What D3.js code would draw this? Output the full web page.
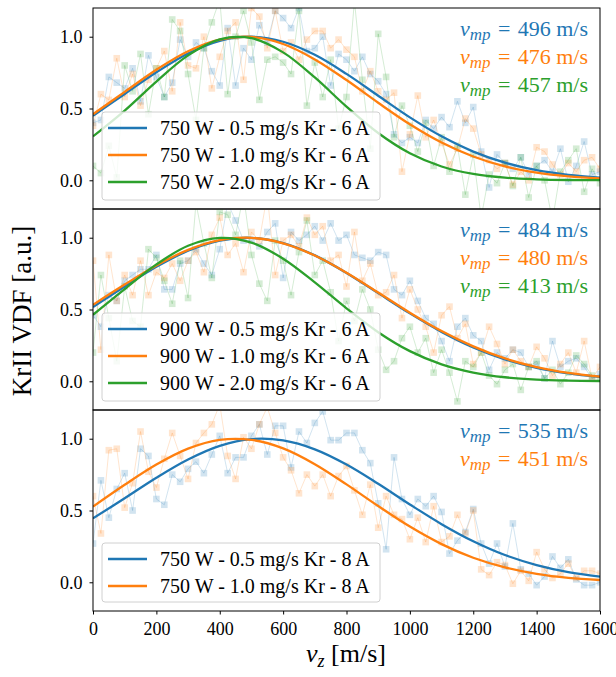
<!DOCTYPE html>
<html><head><meta charset="utf-8">
<script src="https://cdn.jsdelivr.net/npm/d3@7"></script>
<style>
body{margin:0;background:#fff}
svg{display:block}
text{font-family:"Liberation Serif","Times New Roman",serif;}
</style>
</head><body>
<svg id="c" width="616" height="677"></svg>
<script>
// ---------------- DATA ----------------
const xTicks = [0, 200, 400, 600, 800, 1000, 1200, 1400, 1600];
const yTicks = [0.0, 0.5, 1.0];
const vGrid = d3.range(0, 1601, 25);            // measurement grid [m/s]
const fitGrid = [0,100,200,300,400,500,600,700,800,900,1000,1100,1200,1300,1400,1500,1600];

// Panel 1: 750 W, 6 A
const legend1 = ["750 W - 0.5 mg/s Kr - 6 A", "750 W - 1.0 mg/s Kr - 6 A", "750 W - 2.0 mg/s Kr - 6 A"];
const vmp1 = [496, 476, 457];
const p1Blue = [0.40,0.42,0.72,0.68,0.64,0.78,0.55,0.87,0.72,0.58,
 0.68,0.98,0.86,0.96,0.92,0.76,0.66,1.06,0.66,0.92,
 0.84,1.08,0.96,1.18,1.13,1.06,1.20,0.90,0.92,1.00,
 0.66,0.88,0.84,0.76,0.86,0.74,0.69,0.60,0.32,0.26,
 0.30,0.26,0.42,0.36,0.44,0.37,0.55,0.40,0.51,0.20,
 -0.05,0.18,0.12,0.08,0.16,0.04,0.10,0.14,0.06,0.22,
 -0.01,0.10,0.27,0.04,0.06];
const p1Orange = [0.38,0.60,0.56,0.85,0.58,0.74,0.52,0.70,0.78,0.90,
 0.62,1.10,0.80,0.78,1.00,0.64,0.86,1.04,1.10,0.70,
 1.20,1.14,0.92,1.18,0.90,0.96,0.84,0.98,1.04,1.04,
 0.92,0.98,0.91,0.86,0.62,0.76,0.62,0.56,0.61,0.06,
 0.32,0.59,0.30,0.42,0.26,0.11,0.22,0.43,0.36,0.18,
 0.14,0.08,0.12,-0.03,0.06,0.00,0.23,0.20,0.11,0.04,
 0.12,0.06,0.14,0.16,0.08];
const p1Green = [0.10,0.05,0.24,0.02,0.80,0.62,0.88,0.46,0.78,0.58,
 1.12,1.04,0.74,0.42,0.92,1.10,1.26,0.60,1.00,1.18,
 0.96,0.56,0.84,0.86,0.82,0.74,1.18,0.52,0.82,0.58,
 0.84,0.36,0.58,1.25,0.70,0.22,1.02,0.72,0.30,0.52,
 0.38,0.20,0.40,0.10,0.30,0.06,0.24,-0.10,0.18,-0.26,
 0.04,-0.02,0.12,-0.04,0.16,-0.12,0.10,0.00,-0.28,0.06,
 0.14,0.22,-0.08,0.08,-0.02];
const fit1Blue   = [0.450,0.601,0.752,0.883,0.971,1.000,0.965,0.874,0.741,0.589,0.438,0.306,0.200,0.123,0.070,0.038,0.019];
const fit1Orange = [0.460,0.616,0.770,0.899,0.980,0.998,0.949,0.842,0.698,0.540,0.390,0.263,0.166,0.097,0.053,0.027,0.013];
const fit1Green  = [0.306,0.486,0.688,0.870,0.982,0.990,0.891,0.716,0.513,0.329,0.188,0.096,0.044,0.018,0.007,0.002,0.001];

// Panel 2: 900 W, 6 A
const legend2 = ["900 W - 0.5 mg/s Kr - 6 A", "900 W - 1.0 mg/s Kr - 6 A", "900 W - 2.0 mg/s Kr - 6 A"];
const vmp2 = [484, 480, 413];
const p2Blue = [0.46,0.38,0.60,0.56,0.70,0.74,0.78,0.78,0.88,0.64,
 0.64,0.82,0.84,0.92,0.82,0.74,0.92,1.24,1.12,0.98,
 0.98,0.94,1.04,1.10,0.72,1.04,0.98,1.02,1.08,0.98,
 1.10,0.98,1.02,0.88,0.86,0.84,0.90,0.88,0.64,0.60,
 0.70,0.56,0.44,0.40,0.28,0.14,0.38,0.44,0.32,0.28,
 0.08,0.20,0.16,0.22,0.20,0.10,0.12,0.02,0.28,0.10,
 0.14,0.16,0.10,0.02,0.05];
const p2Orange = [0.84,0.22,0.88,0.56,0.74,0.60,0.84,0.60,0.76,0.72,
 0.82,0.70,0.84,0.90,0.76,1.02,1.14,0.88,0.96,0.76,
 1.04,0.98,1.30,0.74,0.98,1.02,0.94,1.14,1.02,1.08,
 0.84,0.88,0.66,1.04,0.70,0.82,0.60,0.62,0.74,0.44,
 0.64,0.50,0.38,0.20,0.46,0.52,0.30,0.40,0.12,0.20,
 0.38,0.26,0.12,0.22,0.14,0.10,0.24,0.16,0.04,0.12,
 0.20,0.06,0.28,0.02,0.10];
const p2Green = [0.20,0.74,0.44,0.14,0.66,0.42,0.38,0.92,0.86,0.70,
 0.54,0.84,0.58,1.24,0.96,0.72,1.18,1.16,1.02,1.30,
 0.88,0.68,0.56,0.98,0.84,0.60,0.90,1.12,0.74,0.84,
 0.62,0.28,0.56,0.42,0.64,0.50,0.22,0.08,0.14,0.30,
 0.38,0.20,0.30,0.06,0.22,0.06,-0.14,0.14,0.10,0.20,
 0.04,-0.02,0.08,0.12,-0.06,0.10,0.14,0.02,0.08,-0.02,
 0.06,0.18,0.12,0.04,0.02];
const fit2Blue   = [0.517,0.660,0.797,0.909,0.980,0.999,0.963,0.877,0.755,0.614,0.473,0.344,0.236,0.153,0.094,0.055,0.030];
const fit2Orange = [0.533,0.674,0.807,0.915,0.983,0.999,0.961,0.876,0.756,0.618,0.478,0.350,0.243,0.159,0.099,0.058,0.032];
const fit2Green  = [0.463,0.642,0.814,0.944,0.999,0.966,0.854,0.689,0.508,0.342,0.210,0.118,0.061,0.028,0.012,0.005,0.002];

// Panel 3: 750 W, 8 A
const legend3 = ["750 W - 0.5 mg/s Kr - 8 A", "750 W - 1.0 mg/s Kr - 8 A"];
const vmp3 = [535, 451];
const p3Blue = [0.27,0.71,0.45,0.65,0.76,0.50,0.93,0.88,0.58,0.54,
 0.75,0.70,0.79,0.84,0.76,0.89,1.02,0.76,0.87,0.87,
 1.02,1.10,0.89,1.09,1.09,0.80,1.05,0.97,1.11,1.19,
 0.99,0.99,1.04,1.04,0.92,0.83,0.55,0.23,0.87,0.58,
 0.47,0.58,0.53,0.60,0.49,0.20,0.29,0.35,0.51,0.27,
 0.13,0.27,0.11,0.41,0.09,0.06,-0.02,0.04,0.18,0.10,
 0.16,0.02,-0.02,-0.02,0.00];
const p3Orange = [0.60,0.34,0.92,0.93,0.52,0.69,1.05,0.77,0.66,0.86,
 1.04,0.88,0.72,0.97,1.04,1.10,1.24,0.88,0.72,1.01,
 0.93,1.10,1.22,1.04,0.87,0.78,0.62,0.75,0.67,0.75,
 0.60,0.74,0.81,0.64,0.47,0.68,0.38,0.60,0.47,0.44,
 0.30,0.45,0.28,0.53,0.28,0.32,0.47,0.34,0.50,0.09,
 0.05,0.14,0.12,-0.01,0.08,0.01,0.21,0.09,0.03,0.06,
 0.13,0.03,0.08,0.08,0.06];
const fit3Blue   = [0.445,0.585,0.728,0.855,0.950,0.997,0.988,0.926,0.820,0.686,0.542,0.405,0.286,0.190,0.120,0.071,0.040];
const fit3Orange = [0.527,0.679,0.820,0.931,0.992,0.992,0.933,0.823,0.682,0.531,0.388,0.266,0.171,0.104,0.059,0.031,0.016];

const palette = ["#1f77b4", "#ff7f0e", "#2ca02c"];

// ---------------- LAYOUT ----------------
const svg = d3.select("#c");
const plotL = 93, plotR = 600, plotTop = 8, panelH = 201;
const x = d3.scaleLinear().domain([0, 1600]).range([plotL, plotR]);

const panels = [
  {legend: legend1, vmp: vmp1, data: [p1Blue, p1Orange, p1Green], fits: [fit1Blue, fit1Orange, fit1Green]},
  {legend: legend2, vmp: vmp2, data: [p2Blue, p2Orange, p2Green], fits: [fit2Blue, fit2Orange, fit2Green]},
  {legend: legend3, vmp: vmp3, data: [p3Blue, p3Orange], fits: [fit3Blue, fit3Orange]}
];

panels.forEach((p, i) => {
  const top = plotTop + i * panelH, bot = top + panelH;
  const y = d3.scaleLinear().domain([-0.2, 1.2]).range([bot, top]);
  const g = svg.append("g");
  const cid = "clip" + i;
  svg.append("clipPath").attr("id", cid).append("rect")
    .attr("x", plotL).attr("y", top).attr("width", plotR - plotL).attr("height", panelH);
  const plot = g.append("g").attr("clip-path", `url(#${cid})`);

  // raw data
  p.data.forEach((s, k) => {
    const line = d3.line().x((d, j) => x(vGrid[j])).y(d => y(d));
    plot.append("path").datum(s).attr("d", line)
      .attr("fill", "none").attr("stroke", palette[k]).attr("stroke-width", 0.8).attr("stroke-opacity", 0.25);
    plot.append("g").selectAll("rect").data(s).join("rect")
      .attr("x", (d, j) => x(vGrid[j]) - 3.3).attr("y", d => y(d) - 3.3)
      .attr("width", 6.6).attr("height", 6.6)
      .attr("fill", palette[k]).attr("fill-opacity", 0.2);
  });
  // fits
  p.fits.forEach((s, k) => {
    const line = d3.line().x((d, j) => x(fitGrid[j])).y(d => y(d)).curve(d3.curveCatmullRom.alpha(0.5));
    plot.append("path").datum(s).attr("d", line)
      .attr("fill", "none").attr("stroke", palette[k]).attr("stroke-width", 2.3);
  });

  // frame
  g.append("rect").attr("x", plotL).attr("y", top).attr("width", plotR - plotL).attr("height", panelH)
    .attr("fill", "none").attr("stroke", "#000").attr("stroke-width", 1);

  // y axis
  const ya = g.append("g").attr("transform", `translate(${plotL},0)`)
    .call(d3.axisLeft(y).tickValues(yTicks).tickFormat(d3.format(".1f")).tickSize(3.5).tickPadding(7));
  ya.select(".domain").remove();
  ya.selectAll("text").attr("font-size", 18).attr("font-family", "Liberation Serif").attr("fill", "#000");
  ya.selectAll("line").attr("stroke", "#000");

  if (i === panels.length - 1) {
    const xa = g.append("g").attr("transform", `translate(0,${bot})`)
      .call(d3.axisBottom(x).tickValues(xTicks).tickFormat(d3.format("d")).tickSize(3.5).tickPadding(8));
    xa.select(".domain").remove();
    xa.selectAll("text").attr("font-size", 18).attr("font-family", "Liberation Serif").attr("fill", "#000");
    xa.selectAll("line").attr("stroke", "#000");
  }

  // legend
  const n = p.legend.length;
  const lh = 27 * n + 7 - (n === 2 ? 2 : 0);
  const lx = 102, lw = 278, ly = bot - 9 - lh;
  const lg = g.append("g");
  lg.append("rect").attr("x", lx).attr("y", ly).attr("width", lw).attr("height", lh)
    .attr("rx", 3).attr("fill", "#fff").attr("fill-opacity", 0.8)
    .attr("stroke", "#d0d0d0").attr("stroke-width", 1);
  p.legend.forEach((t, k) => {
    const cy = ly + 16 + 27 * k;
    lg.append("line").attr("x1", 108).attr("x2", 147).attr("y1", cy).attr("y2", cy)
      .attr("stroke", palette[k]).attr("stroke-width", 2.3);
    lg.append("text").attr("x", 160).attr("y", cy).attr("dy", "0.34em")
      .attr("font-size", 20).attr("fill", "#000").text(t);
  });

  // vmp annotations
  p.vmp.forEach((v, k) => {
    const t = g.append("text").attr("x", 588).attr("y", top + 27.5 + 28.3 * k)
      .attr("text-anchor", "end").attr("font-size", 22).attr("fill", palette[k]);
    t.append("tspan").attr("font-style", "italic").text("v");
    t.append("tspan").attr("font-style", "italic").attr("font-size", 17).attr("dy", 4).text("mp");
    t.append("tspan").attr("dy", -4).text("\u2004=\u2004" + v + " m/s");
  });
});

// axis labels
svg.append("text").attr("transform", "translate(31,311) rotate(-90)")
  .attr("text-anchor", "middle").attr("font-size", 27).attr("fill", "#000").text("KrII VDF [a.u.]");
const xl = svg.append("text").attr("x", 346).attr("y", 662).attr("text-anchor", "middle")
  .attr("font-size", 26).attr("fill", "#000");
xl.append("tspan").attr("font-style", "italic").text("v");
xl.append("tspan").attr("font-style", "italic").attr("font-size", 18).attr("dy", 5).text("z");
xl.append("tspan").attr("dy", -5).text(" [m/s]");
</script>
</body></html>
